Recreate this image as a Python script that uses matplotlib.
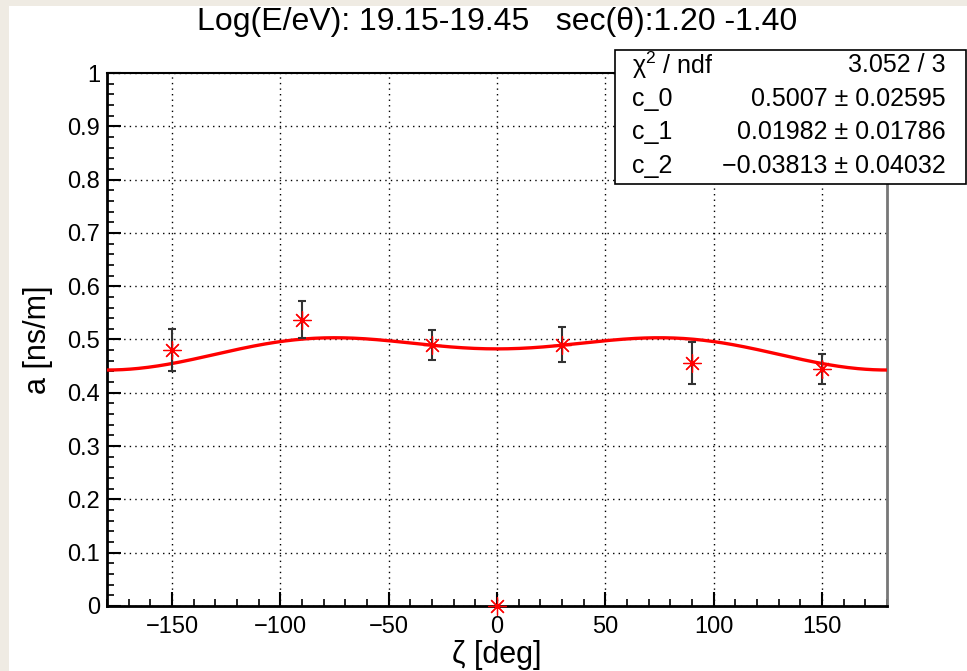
# ----------------------------------------------------------------------------
# Title:   Ajuste de a vs zeta
# ----------------------------------------------------------------------------
import numpy as np
import matplotlib.pyplot as plt
from matplotlib.patches import Rectangle
from matplotlib.ticker import FuncFormatter, MultipleLocator

# Datos
zeta = [-150, -90, -30, 0, 30, 90, 150]
a_val = [0.480, 0.537, 0.490, 0.0, 0.490, 0.456, 0.445]
a_err = [0.039, 0.035, 0.028, 0.0, 0.033, 0.039, 0.028]

# Parametros del ajuste (c_0 + c_1 cos + c_2 cos^2)
c_0 = 0.5007
c_1 = 0.01982
c_2 = -0.03813

stat_names = ['\u03c7$^2$ / ndf', 'c_0', 'c_1', 'c_2']
stat_vals = ['3.052 / 3', '0.5007 ± 0.02595', '0.01982 ± 0.01786',
             '\u22120.03813 ± 0.04032']

titulo = 'Log(E/eV): 19.15-19.45   sec(\u03b8):1.20 -1.40'

plt.rcParams['font.family'] = ['Liberation Sans', 'DejaVu Sans']
plt.rcParams['mathtext.fontset'] = 'custom'
plt.rcParams['mathtext.rm'] = 'Liberation Sans'

W, H = 967, 671
fig = plt.figure(figsize=(W / 100, H / 100), dpi=100)
fig.patch.set_facecolor('#efebe3')
fig.patches.append(Rectangle((9 / W, 0), 1, 1 - 6 / H, transform=fig.transFigure,
                             facecolor='white', edgecolor='none', zorder=-10))

ax = fig.add_axes([107 / W, 65 / H, 780 / W, 533 / H])
ax.set_xlim(-180, 180)
ax.set_ylim(0, 1)

# Grilla
ax.grid(True, which='major', color='black', linestyle=(0, (1, 3)), linewidth=1)
ax.set_axisbelow(True)

# Curva del ajuste
zz = np.linspace(-180, 180, 400)
cz = np.cos(np.radians(zz))
ax.plot(zz, c_0 + c_1 * cz + c_2 * cz ** 2, color='red', linewidth=2.4, zorder=3)

# Puntos con barras de error
ax.errorbar(zeta, a_val, yerr=a_err, fmt='none', ecolor='#333333',
            elinewidth=1.5, capsize=3, capthick=1.5, zorder=4)
ax.plot(zeta, a_val, linestyle='none', marker=(8, 2, 0), markersize=13,
        markeredgecolor='red', markeredgewidth=0.9, zorder=5, clip_on=False)

# Ejes y marcas
ax.xaxis.set_major_locator(MultipleLocator(50))
ax.xaxis.set_minor_locator(MultipleLocator(10))
ax.yaxis.set_major_locator(MultipleLocator(0.1))
ax.yaxis.set_minor_locator(MultipleLocator(0.02))
ax.yaxis.set_major_formatter(FuncFormatter(lambda v, p: '%g' % round(v, 2)))
ax.tick_params(which='major', direction='in', length=10, width=1.5,
               labelsize=17, pad=5)
ax.tick_params(which='minor', direction='in', length=5, width=1.2)
ax.tick_params(axis='x', pad=7)

for s in ['left', 'bottom']:
    ax.spines[s].set_linewidth(2)
ax.spines['top'].set_linewidth(1.5)
ax.spines['right'].set_linewidth(2)
ax.spines['right'].set_color('#777777')

ax.set_xlabel('\u03b6 [deg]', fontsize=22, labelpad=2)
ax.set_ylabel('a [ns/m]', fontsize=22, labelpad=10)

fig.text(497 / W, 1 - 22 / H, titulo, fontsize=23, ha='center', va='center')

# Caja de estadisticas
fig.patches.append(Rectangle((615 / W, 1 - 184 / H), 351 / W, 134 / H,
                             transform=fig.transFigure, facecolor='white',
                             edgecolor='black', linewidth=1.2, zorder=10))
filas = [65, 99, 132, 166]
for nom, val, yy in zip(stat_names, stat_vals, filas):
    fig.text(632 / W, 1 - yy / H, nom, fontsize=18, ha='left', va='center',
             zorder=11)
    fig.text(946 / W, 1 - yy / H, val, fontsize=18, ha='right', va='center',
             zorder=11)

fig.savefig('out.png', dpi=100, facecolor=fig.get_facecolor())
